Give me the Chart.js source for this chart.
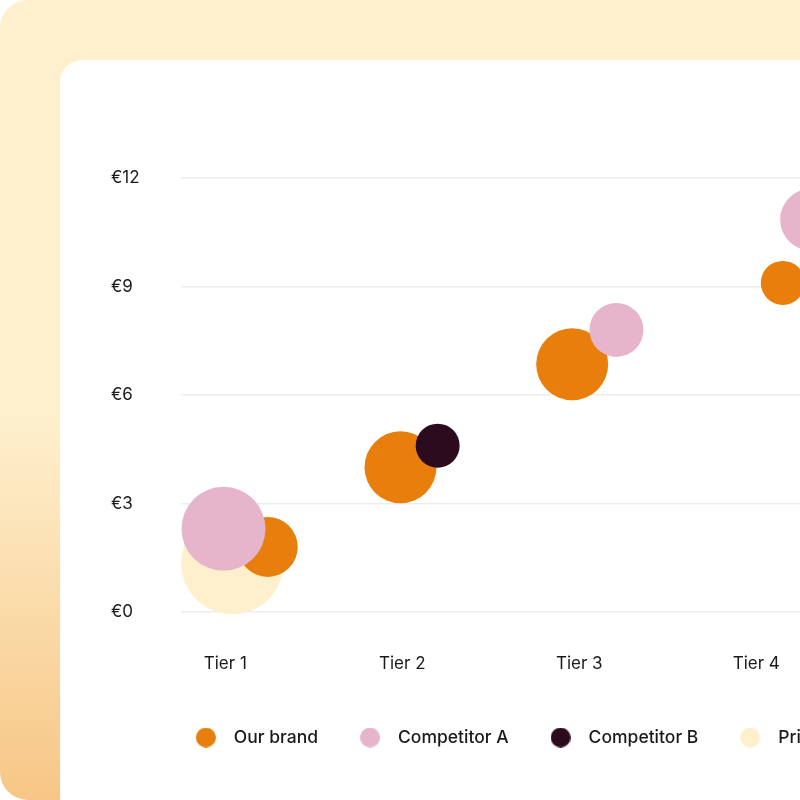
<!DOCTYPE html>
<html>
<head>
<meta charset="utf-8">
<script src="https://cdn.jsdelivr.net/npm/chart.js@4.4.1/dist/chart.umd.min.js"></script>
<style>
  html, body { margin: 0; padding: 0; width: 800px; height: 800px; overflow: hidden; background: #ffffff; }
  #panel { position: absolute; left: 0; top: 0; width: 1200px; height: 800px; border-radius: 28px;
    background: linear-gradient(180deg, #FEF0CD 0%, #FEF0CD 52%, #F7C686 100%); }
  #card { position: absolute; left: 60px; top: 60px; width: 1200px; height: 800px; background: #ffffff; border-top-left-radius: 22px; }
  #chart { position: absolute; left: 0; top: 0; }
</style>
</head>
<body>
<div id="panel"></div>
<div id="card"><canvas id="chart" width="897" height="740" style="width:897px;height:740px"></canvas></div>
<script>
// ---- data ----
const tierLabels = ['Tier 1', 'Tier 2', 'Tier 3', 'Tier 4'];
const tierPositions = [1, 2, 3, 4];
const priceTicks = [0, 3, 6, 9, 12];

const ourBrandX = [1.24, 1.99, 2.96, 4.15];
const ourBrandPrice = [1.8, 4.0, 6.85, 9.1];
const ourBrandSize = [30, 36, 36, 22];

const competitorAX = [0.99, 3.21, 4.31];
const competitorAPrice = [2.3, 7.8, 10.85];
const competitorASize = [42, 27, 31];

const competitorBX = [2.2];
const competitorBPrice = [4.6];
const competitorBSize = [22];

const privateLabelX = [1.04];
const privateLabelPrice = [1.35];
const privateLabelSize = [51];

const seriesNames = ['Our brand', 'Competitor A', 'Competitor B', 'Private label'];
const seriesColors = ['#E87F0C', '#E7B5CB', '#2D0B1E', '#FEF0CC'];

function points(xs, ys, rs) { return xs.map((x, i) => ({ x: x, y: ys[i], r: rs[i] })); }

function makeDot(color) {
  const c = document.createElement('canvas');
  c.width = 20; c.height = 20;
  const g = c.getContext('2d');
  g.fillStyle = color;
  g.beginPath(); g.arc(10, 10, 10, 0, Math.PI * 2); g.fill();
  return c;
}

const FONT = 'Inter, "Noto Sans", sans-serif';

new Chart(document.getElementById('chart'), {
  type: 'bubble',
  data: {
    datasets: [
      { label: seriesNames[0], data: points(ourBrandX, ourBrandPrice, ourBrandSize), backgroundColor: seriesColors[0], order: 3 },
      { label: seriesNames[1], data: points(competitorAX, competitorAPrice, competitorASize), backgroundColor: seriesColors[1], order: 1 },
      { label: seriesNames[2], data: points(competitorBX, competitorBPrice, competitorBSize), backgroundColor: seriesColors[2], order: 2 },
      { label: seriesNames[3], data: points(privateLabelX, privateLabelPrice, privateLabelSize), backgroundColor: seriesColors[3], order: 4 }
    ]
  },
  options: {
    responsive: false,
    animation: false,
    elements: { point: { borderWidth: 0, hoverBorderWidth: 0 } },
    datasets: { bubble: { clip: false } },
    layout: { autoPadding: false, padding: { left: 51, top: 118, right: 0, bottom: 43.75 } },
    scales: {
      x: {
        type: 'linear',
        min: 0.75,
        max: 5.134,
        afterBuildTicks: (s) => { s.ticks = tierPositions.map(v => ({ value: v })); },
        afterFit: (s) => { s.height = 84; },
        grid: { display: false },
        border: { display: false },
        ticks: {
          padding: 33.5,
          color: '#1a1a1a',
          font: { family: FONT, size: 17 },
          callback: (v) => tierLabels[tierPositions.indexOf(v)] ?? ''
        }
      },
      y: {
        min: 0,
        max: 12,
        afterBuildTicks: (s) => { s.ticks = priceTicks.map(v => ({ value: v })); },
        afterFit: (s) => { s.width = 70; },
        grid: { color: '#EDEDED', lineWidth: 1.5, drawTicks: false },
        border: { display: false },
        ticks: {
          crossAlign: 'far',
          color: '#1a1a1a',
          font: { family: FONT, size: 17 },
          callback: (v) => '€' + v
        }
      }
    },
    plugins: {
      tooltip: { enabled: false },
      legend: {
        position: 'bottom',
        align: 'center',
        labels: {
          usePointStyle: true,
          pointStyleWidth: 38.5,
          padding: 32.75,
          color: '#1a1a1a',
          font: { family: FONT, size: 17.5, weight: '500' },
          generateLabels: (chart) => chart.data.datasets.map((ds, i) => ({
            text: ds.label,
            fillStyle: ds.backgroundColor,
            strokeStyle: ds.backgroundColor,
            lineWidth: 0,
            pointStyle: makeDot(ds.backgroundColor),
            hidden: !chart.isDatasetVisible(i),
            datasetIndex: i,
            fontColor: '#1a1a1a'
          }))
        }
      }
    }
  }
});
</script>
</body>
</html>
